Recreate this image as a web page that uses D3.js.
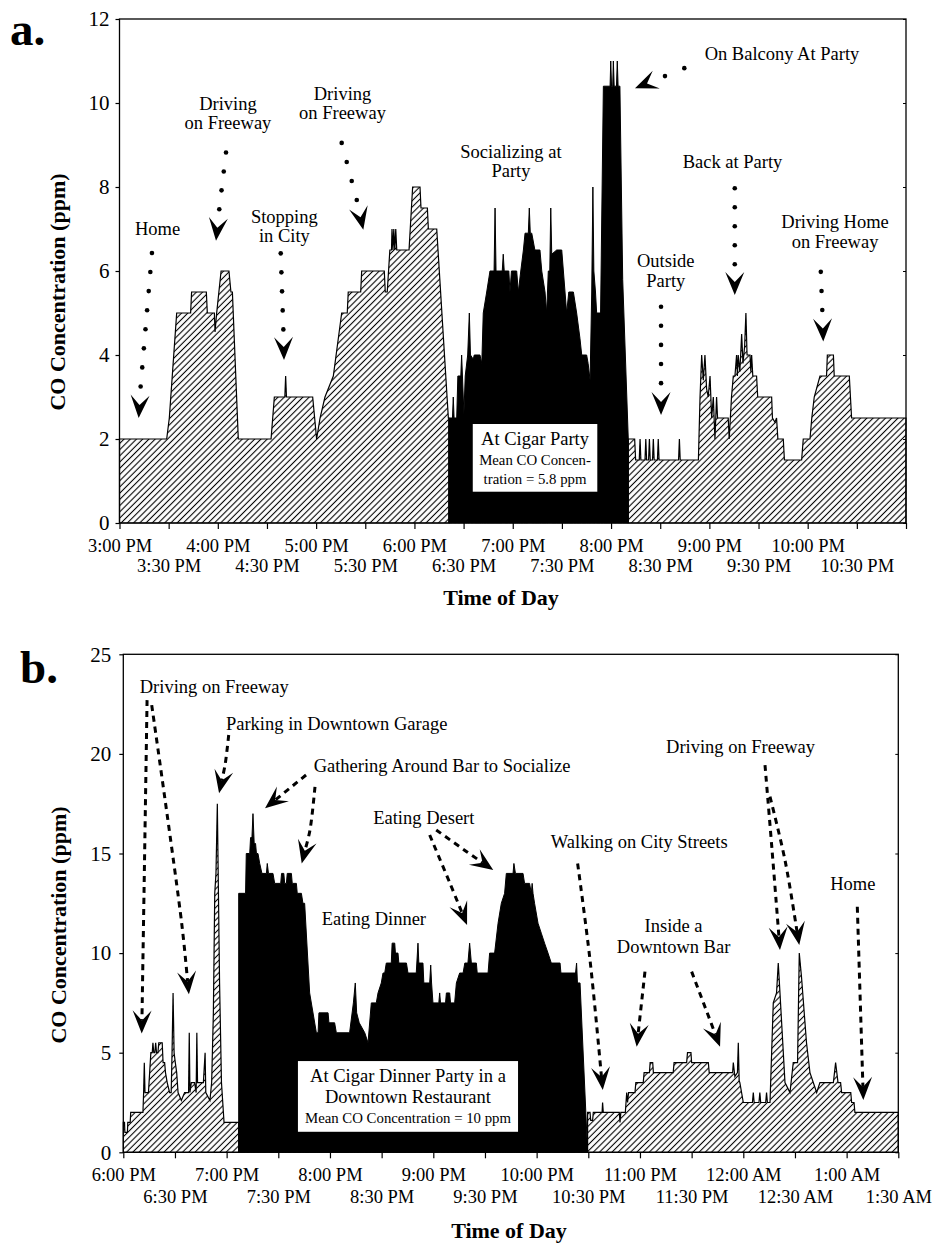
<!DOCTYPE html>
<html lang="en">
<head>
<meta charset="UTF-8">
<title>CO Concentration</title>
<style>
  body { margin: 0; background: #fff; }
  svg { display: block; }
  text { font-family: "Liberation Serif", "Times New Roman", serif; fill: #000; }
</style>
</head>
<body>
<svg id="svg" width="933" height="1245"></svg>
<script src="https://d3js.org/d3.v7.min.js"></script>
<script>
// ---- panel a: [minutes after 3:00 PM, CO ppm] ----
const aBefore = [
  [0,2],[28.8,2],[30.4,2.5],[34.9,5],[43.4,5],[44.0,5.5],[53.0,5.5],[53.6,5],[57.9,5],[58.3,4.55],[59.3,5],
  [62.0,6],[66.8,6],[68.0,5.5],[68.9,5.5],[72.5,2],[92.5,2],[94.5,3],[100.9,3],[101.4,3.5],[101.9,3],
  [117.9,3],[120.3,2],[122.4,2.5],[125.4,3],[130.5,3.5],[135.6,5],[139.0,5],[139.6,5.5],[147.2,5.5],
  [147.8,6],[161.6,6],[162.2,5.5],[163.4,5.5],[165.0,6.5],[166.0,6.5],[166.3,7],[166.9,6.5],[167.4,7],
  [168.0,6.5],[168.6,7],[169.2,6.5],[176.7,6.5],[178.9,8],[183.4,8],[184.0,7.5],[187.9,7.5],[188.5,7],
  [193.6,7],[200.7,2.5],[201.0,2.5]
]
const aParty = [
  [201.0,2.5],[203.2,2.5],[203.7,3.0],[204.2,2.5],[205.8,2.5],[206.5,3.5],[208.3,3.5],[208.8,4.0],[209.3,3.5],
  [210.2,2.6],[211.0,3.5],[212.5,4.0],[213.5,5.0],[214.2,4.0],[215.9,3.9],[216.5,4.0],[220.0,4.0],[221.1,3.8],
  [222.0,5.0],[224.1,5.5],[226.1,6.0],[228.6,6.0],[229.2,7.5],[229.8,6.0],[233.6,6.0],[234.2,6.4],[234.8,6.0],
  [237.6,6.0],[238.3,5.5],[239.2,6.0],[242.4,6.0],[243.4,5.5],[244.9,6.0],[246.5,6.5],[247.5,6.9],[249.5,6.9],
  [250.1,7.5],[250.7,6.9],[251.6,6.9],[253.5,6.5],[256.6,6.5],[257.7,6.0],[259.7,5.5],[260.7,5.0],[261.7,6.0],
  [262.6,6.0],[263.2,7.5],[263.8,6.4],[266.8,6.5],[269.9,6.5],[270.9,6.0],[272.9,5.0],[274.2,5.5],[277.0,5.5],
  [279.0,5.0],[281.0,4.4],[282.1,4.0],[285.1,4.0],[286.0,3.8],[287.2,3.4],[288.2,5.5],[288.9,8.0],[289.5,6.0],
  [290.5,5.5],[291.2,5.0],[293.6,5.0],[295.3,10.4],[299.4,10.4],[299.8,11.0],[300.3,10.4],[301.0,10.4],
  [301.4,11.0],[301.9,10.4],[303.3,10.4],[303.8,11.0],[304.3,10.4],[305.4,10.4],[307.1,5.8],[310.5,2.0]
]
const aAfter = [
  [310.5,2.0],[314.4,2.0],[315.0,1.5],[317.2,1.5],[317.7,2.0],[318.2,1.5],[320.7,1.5],[321.2,2.0],[321.7,1.5],
  [322.9,1.5],[323.4,2.0],[323.9,1.5],[325.3,1.5],[325.8,2.0],[326.3,1.5],[328.3,1.5],[328.8,2.0],[329.3,1.5],
  [341.2,1.5],[341.7,2.0],[342.2,1.5],[353.3,1.5],[354.3,3.0],[355.3,4.0],[356.3,3.4],[357.3,4.0],[358.3,3.2],
  [359.3,3.0],[360.4,3.5],[361.4,2.5],[362.4,3.0],[363.4,2.0],[364.4,3.0],[365.0,2.5],[371.5,2.5],[372.1,2.0],
  [373.5,3.0],[374.6,3.5],[375.6,3.5],[376.6,4.0],[377.1,3.5],[377.6,4.0],[378.6,3.6],[379.7,4.5],[380.5,3.8],
  [381.5,4.2],[382.3,5.0],[383.0,4.0],[384.8,4.0],[385.3,3.6],[385.8,4.0],[386.5,3.5],[388.8,3.5],[389.5,3.0],
  [398.0,3.0],[398.5,2.5],[400.0,2.4],[401.0,2.5],[401.8,2.0],[405.1,2.0],[405.8,1.5],[416.3,1.5],[417.3,2.0],
  [421.4,2.0],[422.5,2.5],[424.0,3.0],[427.5,3.5],[431.5,3.5],[432.0,4.0],[435.7,4.0],[436.2,3.5],[445.4,3.5],
  [446.8,2.5],[480,2.5]
]
const aTimeLabels = ['3:00 PM','3:30 PM','4:00 PM','4:30 PM','5:00 PM','5:30 PM','6:00 PM','6:30 PM',
  '7:00 PM','7:30 PM','8:00 PM','8:30 PM','9:00 PM','9:30 PM','10:00 PM','10:30 PM']
const aYTicks = [0, 2, 4, 6, 8, 10, 12]
const aBoxLines = ['At Cigar Party', 'Mean CO Concen-', 'tration = 5.8 ppm']

// ---- panel b: [minutes after 6:00 PM, CO ppm] ----
const bBefore = [
  [0,1.5],[0.7,1.5],[0.9,1.0],[2.4,1.0],[2.6,1.5],[4.0,1.5],[4.3,2.0],[11.4,2.0],[11.8,3.0],[12.2,4.5],[12.6,3.0],
  [14.6,3.0],[15.3,4.0],[16.0,5.0],[16.8,5.0],[17.2,5.5],[17.7,5.0],[18.3,5.0],[18.8,5.5],[19.3,5.0],[20.1,5.0],
  [20.6,5.5],[22.6,5.5],[23.1,4.5],[24.0,4.5],[24.5,4.0],[25.5,3.5],[26.9,3.0],[27.8,3.0],[28.3,5.0],[28.9,8.0],
  [29.5,5.0],[30.2,4.5],[31.0,4.0],[31.8,3.0],[33.7,2.6],[35.6,3.0],[37.9,3.0],[38.3,6.0],[38.7,3.0],[39.5,3.5],
  [41.4,3.5],[42.3,3.0],[42.7,6.0],[43.1,3.5],[46.5,3.5],[47.5,5.0],[47.9,3.0],[50.3,2.6],[51.3,3.5],[52.3,7.0],
  [53.1,13.0],[53.8,14.0],[54.6,17.5],[55.1,14.0],[55.9,8.5],[57.0,3.5],[58.5,1.5],[67.0,1.5]
]
const bParty = [
  [67.0,13.0],[71.0,13.0],[71.4,15.0],[73.4,15.0],[73.9,15.8],[74.7,15.8],[75.3,17.0],[76.0,15.5],[76.8,15.5],
  [77.3,15.0],[78.2,15.0],[79.2,14.5],[80.5,14.0],[83.1,14.0],[83.6,14.5],[84.3,14.0],[86.9,14.0],[87.9,13.5],
  [91.4,13.5],[91.9,14.0],[93.2,14.0],[93.7,13.5],[94.7,13.5],[95.2,14.0],[97.6,14.0],[98.1,13.5],[100.5,13.5],
  [101.0,13.0],[103.4,13.0],[104.3,12.5],[105.3,12.5],[108.2,8.0],[112.1,6.0],[113.1,6.0],[113.6,7.0],[118.9,7.0],
  [119.4,6.5],[122.7,6.5],[123.7,6.0],[131.4,6.0],[133.6,7.5],[134.7,8.5],[135.5,7.0],[137.0,6.5],[140.2,6.0],
  [142.1,5.5],[144.0,7.5],[146.9,7.5],[147.9,8.0],[149.8,8.5],[150.8,9.0],[151.8,9.0],[152.7,9.5],[155.6,9.5],
  [156.1,10.5],[157.6,10.5],[158.0,10.0],[159.5,10.0],[160.0,9.5],[164.4,9.5],[165.3,9.0],[170.1,9.0],[171.1,10.5],
  [171.6,9.5],[174.0,9.5],[174.5,8.5],[177.9,8.5],[178.5,9.4],[179.0,8.5],[179.8,7.5],[183.2,7.5],[183.7,8.0],
  [184.2,7.5],[187.1,7.5],[187.6,8.0],[189.5,8.0],[190.0,7.5],[192.4,7.5],[193.4,8.5],[195.3,9.0],[197.3,9.0],
  [198.3,9.5],[200.1,9.5],[201.1,10.5],[202.1,9.5],[205.0,9.5],[205.5,9.0],[211.8,9.0],[212.7,10.0],[215.6,10.0],
  [217.6,11.5],[219.5,12.5],[221.4,13.0],[222.4,14.0],[226.3,14.0],[226.8,14.5],[227.7,14.0],[232.1,14.0],
  [233.0,13.5],[235.9,13.5],[236.9,13.0],[237.4,13.5],[237.9,13.0],[238.8,12.5],[240.8,11.5],[242.7,11.0],
  [244.6,10.5],[246.6,10.0],[248.5,9.5],[253.6,9.5],[254.1,9.0],[262.6,9.0],[263.2,9.5],[263.7,8.5],[265.2,8.5],
  [269.6,0]
]
const bAfter = [
  [269.6,2.0],[271.0,2.0],[271.4,1.6],[272.5,1.6],[272.9,2.0],[278.0,2.0],[278.3,2.5],[278.7,2.0],[288.0,2.0],
  [288.4,1.5],[288.9,2.0],[291.5,2.0],[292.3,3.0],[292.8,2.5],[293.4,3.0],[297.1,3.0],[297.6,3.5],[301.9,3.5],
  [302.4,4.0],[305.5,4.0],[305.9,4.5],[307.4,4.5],[307.8,4.0],[319.3,4.0],[319.8,4.5],[327.1,4.5],[327.6,5.0],
  [329.6,5.0],[330.0,4.5],[339.7,4.5],[340.2,4.0],[353.8,4.0],[354.2,4.5],[355.1,3.8],[356.6,4.0],[357.1,5.5],
  [357.6,3.6],[358.0,3.5],[360.0,2.5],[365.3,2.5],[365.8,3.0],[366.3,2.5],[369.1,2.5],[369.6,3.0],[370.1,2.5],
  [373.0,2.5],[373.5,3.0],[374.0,2.5],[375.5,2.5],[377.4,7.5],[379.3,8.0],[380.3,9.5],[381.3,8.0],[384.2,3.5],
  [387.1,3.0],[389.0,4.5],[391.5,4.5],[392.5,10.0],[393.8,8.8],[396.7,5.5],[398.7,4.0],[402.6,3.0],[404.5,3.5],
  [412.3,3.5],[413.6,4.5],[415.0,3.5],[416.5,3.5],[417.1,3.0],[422.4,3.0],[422.9,2.5],[424.3,2.5],[424.8,2.0],
  [450,2.0]
]
const bTimeLabels = ['6:00 PM','6:30 PM','7:00 PM','7:30 PM','8:00 PM','8:30 PM','9:00 PM','9:30 PM',
  '10:00 PM','10:30 PM','11:00 PM','11:30 PM','12:00 AM','12:30 AM','1:00 AM','1:30 AM']
const bYTicks = [0, 5, 10, 15, 20, 25]
const bBoxLines = ['At Cigar Dinner Party in a', 'Downtown Restaurant', 'Mean CO Concentration = 10 ppm']

const svg = d3.select('#svg')

// diagonal hatch for the non-party time
svg.append('defs').append('pattern')
  .attr('id', 'hatch')
  .attr('patternUnits', 'userSpaceOnUse')
  .attr('width', 4.4).attr('height', 4.4)
  .attr('patternTransform', 'rotate(45)')
  .append('line')
  .attr('x1', 2.2).attr('y1', 0).attr('x2', 2.2).attr('y2', 4.4)
  .attr('stroke', '#000').attr('stroke-width', 1.1)

function head(from, tip) {
  const ang = Math.atan2(tip[1] - from[1], tip[0] - from[0]) * 180 / Math.PI
  svg.append('path')
    .attr('d', 'M0,0L-23,-9.5L-13,0L-23,9.5Z')
    .attr('transform', `translate(${tip[0]},${tip[1]}) rotate(${ang})`)
    .attr('fill', '#000')
}

function drawPanel(c) {
  const x = d3.scaleLinear().domain([0, c.span]).range([c.left, c.right])
  const y = d3.scaleLinear().domain([0, c.yTicks[c.yTicks.length - 1]]).range([c.bottom, c.top])
  const area = d3.area().x(d => x(d[0])).y0(y(0)).y1(d => y(d[1]))

  c.hatched.forEach(s => {
    svg.append('path').attr('d', area(s))
      .attr('fill', 'url(#hatch)').attr('stroke', '#000').attr('stroke-width', 1.2)
  })
  svg.append('path').attr('d', area(c.party))
    .attr('fill', '#000').attr('stroke', '#000').attr('stroke-width', 1)

  svg.append('rect')
    .attr('x', c.left).attr('y', c.top)
    .attr('width', c.right - c.left).attr('height', c.bottom - c.top)
    .attr('fill', 'none').attr('stroke', '#000').attr('stroke-width', 1.3)

  const xa = svg.append('g').attr('transform', `translate(0,${c.bottom})`)
    .call(d3.axisBottom(x).tickValues(d3.range(0, c.span + 1, 30)).tickSize(6)
      .tickFormat((d, i) => c.timeLabels[i] || ''))
  xa.select('.domain').remove()
  xa.selectAll('line').attr('stroke-width', 1.2)
  xa.selectAll('text').attr('y', (d, i) => i % 2 ? c.row2 : 29).attr('dy', null).style('font-size', '18.5px')

  const ya = svg.append('g').attr('transform', `translate(${c.left},0)`)
    .call(d3.axisLeft(y).tickValues(c.yTicks).tickSize(4).tickPadding(c.yPad))
  ya.select('.domain').remove()
  ya.selectAll('line').attr('stroke-width', 1.2)
  ya.selectAll('text').style('font-size', '21px')

  const yr = svg.append('g').attr('transform', `translate(${c.right},0)`)
    .call(d3.axisLeft(y).tickValues(c.yTicks).tickSize(3).tickFormat(''))
  yr.select('.domain').remove()

  // result box
  svg.append('rect')
    .attr('x', x(c.box[0])).attr('y', y(c.box[3]))
    .attr('width', x(c.box[1]) - x(c.box[0])).attr('height', y(c.box[2]) - y(c.box[3]))
    .attr('fill', '#fff')
  c.boxLines.forEach((s, i) => {
    svg.append('text').attr('x', x(c.boxMid)).attr('y', y(c.boxBase[i]))
      .attr('text-anchor', 'middle').style('font-size', c.boxSize[i] + 'px').text(s)
  })

  c.notes.forEach(n => {
    const t = svg.append('text').attr('text-anchor', 'middle').style('font-size', '18.5px')
    n.text.forEach((s, i) => t.append('tspan').attr('x', x(n.t)).attr('y', y(n.v[i])).text(s))
  })

  ;(c.dotted || []).forEach(a => {
    const p0 = [x(a.from[0]), y(a.from[1])], p1 = [x(a.to[0]), y(a.to[1])]
    d3.range(a.n).forEach(i => {
      const f = a.n === 1 ? 0 : i / (a.n - 1)
      svg.append('circle')
        .attr('cx', p0[0] + (p1[0] - p0[0]) * f).attr('cy', p0[1] + (p1[1] - p0[1]) * f)
        .attr('r', 2.3).attr('fill', '#000')
    })
    head(p1, [x(a.tip[0]), y(a.tip[1])])
  })

  ;(c.dashed || []).forEach(a => {
    const pts = a.map(d => [x(d[0]), y(d[1])])
    const tip = pts[pts.length - 1], prev = pts[pts.length - 2]
    const dx = tip[0] - prev[0], dy = tip[1] - prev[1], L = Math.hypot(dx, dy)
    const linePts = pts.slice(0, -1).concat([[tip[0] - dx / L * 13, tip[1] - dy / L * 13]])
    svg.append('path')
      .attr('d', d3.line().curve(d3.curveCatmullRom)(linePts))
      .attr('fill', 'none').attr('stroke', '#000').attr('stroke-width', 3)
      .attr('stroke-dasharray', '6,5')
    head(prev, tip)
  })

  svg.append('text').attr('x', c.titleX).attr('y', c.titleY)
    .attr('text-anchor', 'middle').style('font-size', '22px').style('font-weight', 'bold')
    .text('Time of Day')
  svg.append('text')
    .attr('transform', `translate(${c.yTitleX},${c.yTitleY}) rotate(-90)`)
    .attr('text-anchor', 'middle').style('font-size', '22px').style('font-weight', 'bold')
    .text('CO Concentration (ppm)')
  svg.append('text').attr('x', c.letterX).attr('y', c.letterY)
    .style('font-size', '47px').style('font-weight', 'bold').text(c.letter)
}

drawPanel({
  letter: 'a.', letterX: 10, letterY: 45,
  left: 119.5, right: 906, top: 19, bottom: 523, span: 480,
  yTicks: aYTicks, yPad: 6, timeLabels: aTimeLabels, row2: 49,
  hatched: [aBefore, aAfter], party: aParty,
  titleX: 501, titleY: 605, yTitleX: 65, yTitleY: 292,
  box: [215.6, 291.6, 0.745, 2.357], boxMid: 253.6, boxBase: [1.857, 1.381, 0.929],
  boxSize: [18.5, 14.8, 14.8], boxLines: aBoxLines,
  notes: [
    { text: ['Home'], t: 23.2, v: [6.86] },
    { text: ['Driving', 'on Freeway'], t: 66.2, v: [9.83, 9.38] },
    { text: ['Stopping', 'in City'], t: 100.6, v: [7.15, 6.70] },
    { text: ['Driving', 'on Freeway'], t: 136.1, v: [10.07, 9.62] },
    { text: ['Socializing at', 'Party'], t: 238.9, v: [8.68, 8.25] },
    { text: ['On Balcony At Party'], t: 404.3, v: [11.02] },
    { text: ['Outside', 'Party'], t: 333.4, v: [6.10, 5.63] },
    { text: ['Back at Party'], t: 374.1, v: [8.45] },
    { text: ['Driving Home', 'on Freeway'], t: 436.7, v: [7.02, 6.54] }
  ],
  dotted: [
    { from: [19.8, 6.43], to: [12.9, 3.25], n: 8, tip: [11.7, 2.5] },
    { from: [65.0, 8.82], to: [60.9, 7.47], n: 4, tip: [58.9, 6.72] },
    { from: [98.4, 6.42], to: [100.0, 4.61], n: 5, tip: [100.4, 3.88] },
    { from: [135.6, 9.05], to: [144.8, 7.69], n: 4, tip: [148.8, 6.98] },
    { from: [344.7, 10.83], to: [332.9, 10.64], n: 2, tip: [314.6, 10.35] },
    { from: [330.5, 5.15], to: [330.5, 3.33], n: 5, tip: [330.5, 2.57] },
    { from: [375.5, 7.97], to: [375.5, 6.16], n: 5, tip: [375.5, 5.43] },
    { from: [428.0, 5.98], to: [428.9, 5.07], n: 3, tip: [429.5, 4.32] }
  ]
})

drawPanel({
  letter: 'b.', letterX: 20, letterY: 683,
  left: 123.3, right: 898.3, top: 654.3, bottom: 1152.3, span: 450,
  yTicks: bYTicks, yPad: 8, timeLabels: bTimeLabels, row2: 51,
  hatched: [bBefore, bAfter], party: bParty,
  titleX: 509, titleY: 1238, yTitleX: 66, yTitleY: 925,
  box: [101.4, 229.2, 1.03, 4.58], boxMid: 165.3, boxBase: [3.54, 2.49, 1.46],
  boxSize: [18.5, 18.5, 14.8], boxLines: bBoxLines,
  notes: [
    { text: ['Driving on Freeway'], t: 52.8, v: [23.07] },
    { text: ['Parking in Downtown Garage'], t: 123.9, v: [21.2] },
    { text: ['Gathering Around Bar to Socialize'], t: 185.1, v: [19.1] },
    { text: ['Eating Desert'], t: 174.5, v: [16.5] },
    { text: ['Eating Dinner'], t: 145.5, v: [11.41] },
    { text: ['Walking on City Streets'], t: 299.6, v: [15.26] },
    { text: ['Inside a', 'Downtown Bar'], t: 319.5, v: [11.07, 9.99] },
    { text: ['Driving on Freeway'], t: 358.4, v: [20.03] },
    { text: ['Home'], t: 423.6, v: [13.17] }
  ],
  dashed: [
    [[13.8, 22.7], [12.3, 14.5], [10.7, 5.97]],
    [[16.5, 22.45], [33.9, 11.5], [38.1, 7.93]],
    [[61.2, 20.95], [59.1, 19.45], [55.6, 18.02]],
    [[106.1, 18.94], [82.3, 17.27]],
    [[111.3, 18.35], [108.4, 16.18], [103.6, 14.5]],
    [[177.9, 15.93], [189.7, 13.5], [199.6, 11.41]],
    [[181.7, 16.18], [199.4, 15.09], [214.8, 14.17]],
    [[263.8, 14.5], [271.0, 9.65], [278.4, 3.13]],
    [[302.9, 9.07], [298.1, 5.30]],
    [[330.0, 9.07], [346.5, 5.30]],
    [[372.6, 19.44], [376.7, 15.17], [381.3, 10.16]],
    [[375.5, 17.85], [384.2, 14.67], [392.5, 10.41]],
    [[426.2, 12.33], [429.7, 2.63]]
  ]
})
</script>
</body>
</html>
